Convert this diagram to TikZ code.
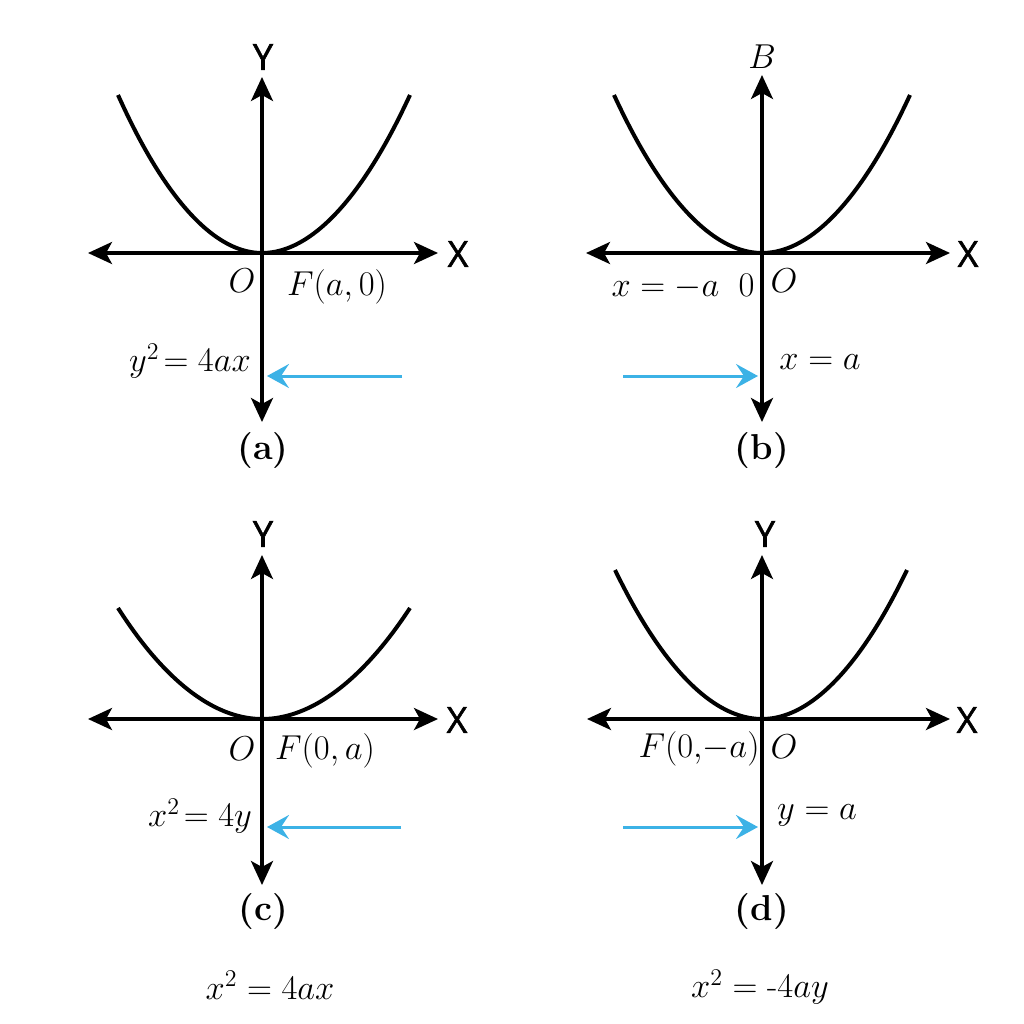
\documentclass[tikz,border=0pt]{standalone}
\usepackage{amsmath}
\usepackage{fontspec}
\usepackage{tikz}
\usepackage{xcolor}
\usetikzlibrary{arrows.meta}
\newfontfamily\axfont{Open Sans}[FakeBold=1.5]
\definecolor{skyblue}{RGB}{60,178,230}
\tikzset{
    axis-line/.style = {draw=black, line width=1.7pt, arrows={Stealth[length=12pt,width=11pt,inset=3pt]-Stealth[length=12pt,width=11pt,inset=3pt]}},
    parabola-curve/.style = {draw=black, line width=2pt},
    blue-pointer/.style = {draw=skyblue, line width=1.5pt, arrows={-Stealth[length=11pt,width=12pt,inset=4pt]}},
    axis-label/.style = {font=\axfont\fontsize{18}{20}\selectfont, inner sep=1pt},
    eq-label/.style = {font=\fontsize{17}{19}\selectfont, inner sep=1pt},
    panel-title/.style = {font=\bfseries\fontsize{18}{20}\selectfont, inner sep=1pt},
}
\begin{document}
\begin{tikzpicture}[x=0.5pt, y=-0.5pt]
\useasboundingbox (0,0) rectangle (1024,1024);

% (a)
\coordinate (a-top) at (262,77);
\coordinate (a-bottom) at (262,422);
\coordinate (a-left) at (88,253);
\coordinate (a-right) at (438,253);
\coordinate (a-vertex) at (262,253);
\coordinate (a-tail) at (402,376);
\coordinate (a-head) at (267,376);
\draw[axis-line] (a-left) -- (a-right);
\draw[axis-line] (a-bottom) -- (a-top);
\draw[parabola-curve] (118,95) parabola bend (a-vertex) (410,95);
\draw[blue-pointer] (a-tail) -- (a-head);
\node[axis-label] (a-y) at (263,57) {Y};
\node[axis-label] (a-x) at (458,254) {X};
\node[eq-label] (a-o) at (242,281) {$O$};
\node[eq-label] (a-focus) at (337,287) {$F(a,0)$};
\node[eq-label] (a-eq) at (190,361) {$y^2\!=4ax$};
\node[panel-title] (a-title) at (263,451) {(a)};

% (b)
\coordinate (b-top) at (762,75);
\coordinate (b-bottom) at (762,422);
\coordinate (b-left) at (586,253);
\coordinate (b-right) at (950,253);
\coordinate (b-vertex) at (762,253);
\coordinate (b-tail) at (623,376);
\coordinate (b-head) at (758,376);
\draw[axis-line] (b-left) -- (b-right);
\draw[axis-line] (b-bottom) -- (b-top);
\draw[parabola-curve] (614,95) parabola bend (b-vertex) (910,95);
\draw[blue-pointer] (b-tail) -- (b-head);
\node[eq-label] (b-y) at (762,57) {$B$};
\node[axis-label] (b-x) at (968,254) {X};
\node[eq-label] (b-directrix) at (683,287) {$x=-a\;\;0$};
\node[eq-label] (b-o) at (784,281) {$O$};
\node[eq-label] (b-eq) at (820,362) {$x=a$};
\node[panel-title] (b-title) at (762,451) {(b)};

% (c)
\coordinate (c-top) at (262,555);
\coordinate (c-bottom) at (262,885);
\coordinate (c-left) at (88,719);
\coordinate (c-right) at (438,719);
\coordinate (c-vertex) at (262,719);
\coordinate (c-tail) at (401,827);
\coordinate (c-head) at (267,827);
\draw[axis-line] (c-left) -- (c-right);
\draw[axis-line] (c-bottom) -- (c-top);
\draw[parabola-curve] (118,608) parabola bend (c-vertex) (410,608);
\draw[blue-pointer] (c-tail) -- (c-head);
\node[axis-label] (c-y) at (263,534) {Y};
\node[axis-label] (c-x) at (457,720) {X};
\node[eq-label] (c-o) at (242,749) {$O$};
\node[eq-label] (c-focus) at (325,751) {$F(0,a)$};
\node[eq-label] (c-eq) at (200,816) {$x^2\!=4y$};
\node[panel-title] (c-title) at (263,912) {(c)};
\node[eq-label] (c-formula) at (270,985) {$x^2=4ax$};

% (d)
\coordinate (d-top) at (762,555);
\coordinate (d-bottom) at (762,885);
\coordinate (d-left) at (587,719);
\coordinate (d-right) at (950,719);
\coordinate (d-vertex) at (762,719);
\coordinate (d-tail) at (623,827);
\coordinate (d-head) at (758,827);
\draw[axis-line] (d-left) -- (d-right);
\draw[axis-line] (d-bottom) -- (d-top);
\draw[parabola-curve] (615,570) parabola bend (d-vertex) (907,570);
\draw[blue-pointer] (d-tail) -- (d-head);
\node[axis-label] (d-y) at (765,534) {Y};
\node[axis-label] (d-x) at (967,720) {X};
\node[eq-label] (d-focus) at (699,749) {$F(0,\!-a)$};
\node[eq-label] (d-o) at (784,747) {$O$};
\node[eq-label] (d-eq) at (817,815) {$y=a$};
\node[panel-title] (d-title) at (762,912) {(d)};
\node[eq-label] (d-formula) at (760,987) {$x^2=\text{-}4ay$};
\end{tikzpicture}
\end{document}
